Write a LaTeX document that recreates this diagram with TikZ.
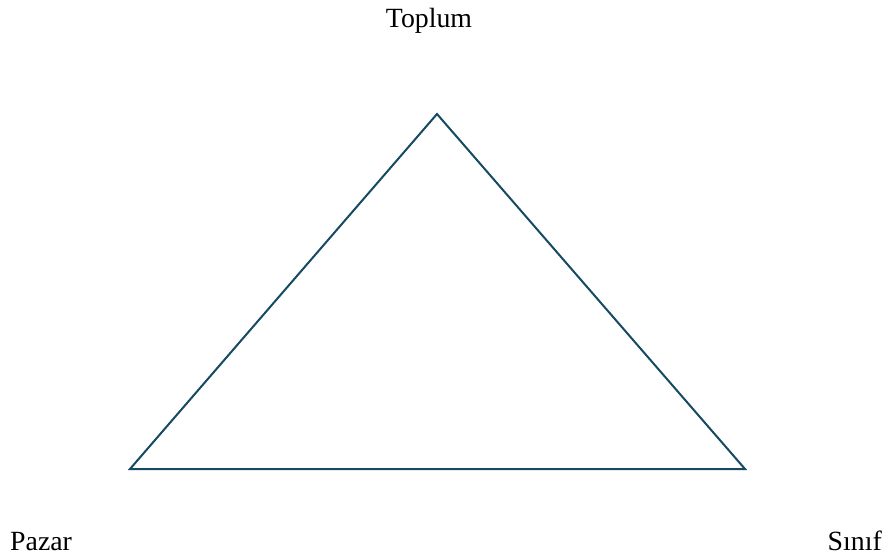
\documentclass[tikz,border=0pt]{standalone}
\usepackage{fontspec}
\setmainfont{Liberation Serif}
\definecolor{edge}{HTML}{154A60}
\begin{document}
\begin{tikzpicture}[x=1pt,y=-1pt,
  lbl/.style={font=\fontsize{27.8}{30}\selectfont, inner sep=0pt, text=black},
  side/.style={draw=edge, line width=2pt, line join=miter}]
\useasboundingbox (0,0) rectangle (891,553);
\coordinate (t) at (437,114);
\coordinate (l) at (130,469);
\coordinate (r) at (745,469);
\draw[side] (t) -- (l) -- (r) -- cycle;
\node[lbl, anchor=base] (top) at (429,28) {Toplum};
\node[lbl, anchor=base west] (pazar) at (10,550) {Pazar};
\node[lbl, anchor=base east] (sinif) at (882,550) {Sınıf};
\end{tikzpicture}
\end{document}
